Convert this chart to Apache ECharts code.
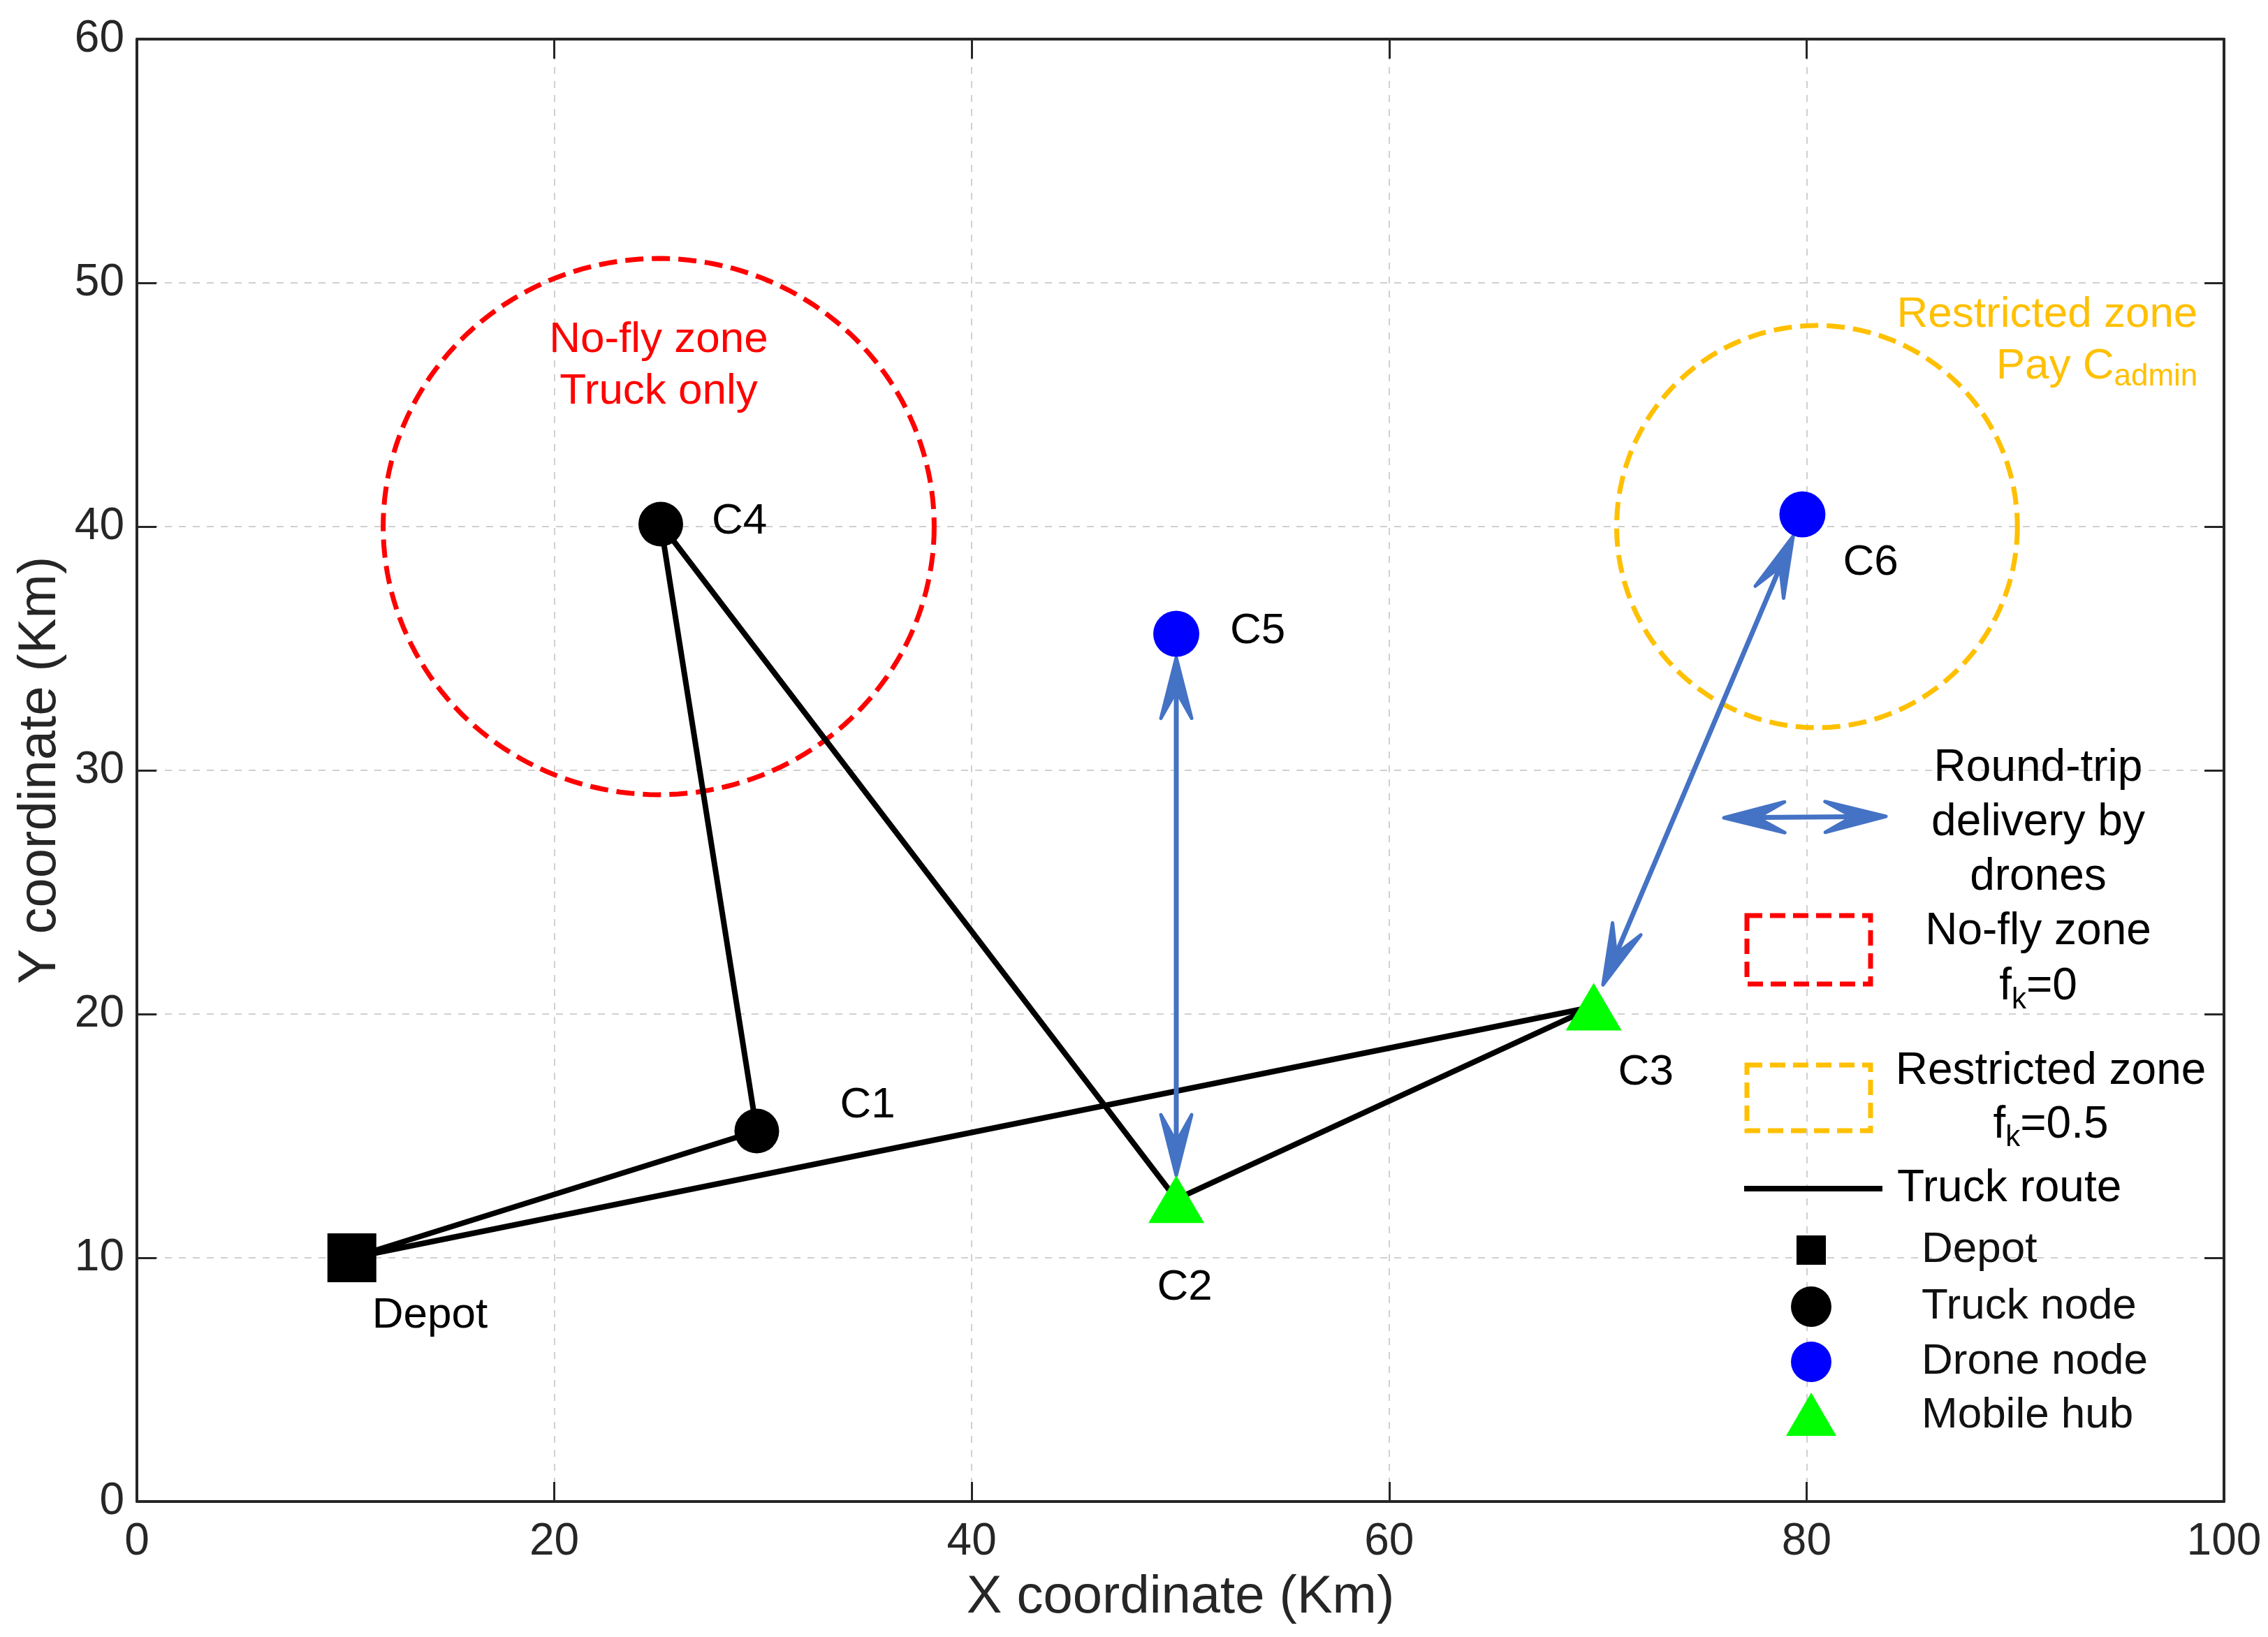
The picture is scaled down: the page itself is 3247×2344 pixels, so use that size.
<!DOCTYPE html>
<html>
<head>
<meta charset="utf-8">
<script src="https://cdn.jsdelivr.net/npm/echarts@6/dist/echarts.min.js"></script>
<style>html,body{margin:0;background:#fff}#main{width:3247px;height:2344px}</style>
</head>
<body>
<div id="main"></div>
<script>
// customers and depot (km)
let nodeNames = ['Depot', 'C1', 'C2', 'C3', 'C4', 'C5', 'C6']
let nodeX = [10.3, 29.7, 49.8, 69.8, 25.1, 49.8, 79.8]
let nodeY = [10, 15.2, 12.4, 20.3, 40.1, 35.6, 40.5]
let nodeKind = ['depot', 'truck', 'hub', 'hub', 'truck', 'drone', 'drone']

let truckRoute = ['Depot', 'C1', 'C4', 'C2', 'C3', 'Depot']
let droneTrips = [['C2', 'C5'], ['C3', 'C6']]

// zones: centre and radii in km
let zoneNames = ['nofly', 'restricted']
let zoneCx = [25, 80.5]
let zoneCy = [40, 40]
let zoneRx = [13.2, 9.6]
let zoneRy = [11, 8.25]

let xTicks = [0, 20, 40, 60, 80, 100]
let yTicks = [0, 10, 20, 30, 40, 50, 60]

const FONT = "'Liberation Sans', Arial, sans-serif"
const RED = '#FF0000', ORANGE = '#FFC000', BLUE = '#4472C4'

let kindStyle = {
  depot: { symbol: 'rect', size: 70, color: '#000' },
  truck: { symbol: 'circle', size: 64, color: '#000' },
  drone: { symbol: 'circle', size: 66, color: '#0000FF' },
  hub: { symbol: 'triangle', size: [80, 68], color: '#00FF00' }
}
// where each label sits relative to its marker (px)
let labelPos = {
  Depot: { align: 'left', offset: [29, 83] },
  C1: { align: 'left', offset: [119, -37] },
  C2: { align: 'center', offset: [12, 127] },
  C3: { align: 'left', offset: [35, 94] },
  C4: { align: 'left', offset: [73, -4] },
  C5: { align: 'left', offset: [77, -4] },
  C6: { align: 'left', offset: [58, 69] }
}
let zoneStyle = {
  nofly: { color: RED, text: 'No-fly zone\nTruck only', align: 'center', dx: 0, dy: -230 },
  restricted: { color: ORANGE, text: 'Restricted zone\nPay C{s|admin}', align: 'right', dx: 545, dy: -266 }
}

function idx(n) { return nodeNames.indexOf(n) }

let nodeData = nodeNames.map((n, i) => {
  let st = kindStyle[nodeKind[i]]
  let lp = labelPos[n]
  return {
    name: n,
    value: [nodeX[i], nodeY[i]],
    symbol: st.symbol,
    symbolSize: st.size,
    itemStyle: { color: st.color, opacity: 1 },
    label: {
      show: true, formatter: n, position: 'inside', align: lp.align, verticalAlign: 'middle',
      offset: lp.offset, color: '#000', fontSize: 62, fontFamily: FONT
    }
  }
})

let routeData = truckRoute.map(n => [nodeX[idx(n)], nodeY[idx(n)]])
let tripData = droneTrips.map(t => [nodeX[idx(t[0])], nodeY[idx(t[0])], nodeX[idx(t[1])], nodeY[idx(t[1])]])
let zoneData = zoneNames.map((z, i) => [zoneCx[i], zoneCy[i], zoneRx[i], zoneRy[i]])

// notched arrow head (tip, two barbs, notch on the shaft)
function head(tip, ux, uy, len, hw) {
  let nx = -uy, ny = ux
  let bx = tip[0] - ux * len, by = tip[1] - uy * len
  let notch = [tip[0] - ux * len * 0.55, tip[1] - uy * len * 0.55]
  return {
    type: 'polygon',
    shape: { points: [tip, [bx + nx * hw, by + ny * hw], notch, [bx - nx * hw, by - ny * hw]] },
    style: { fill: BLUE, stroke: BLUE, lineWidth: 5, lineJoin: 'round' }
  }
}

function doubleArrow(p1, p2, shrink, z) {
  let dx = p2[0] - p1[0], dy = p2[1] - p1[1]
  let d = Math.sqrt(dx * dx + dy * dy)
  let ux = dx / d, uy = dy / d
  let a = [p1[0] + ux * shrink, p1[1] + uy * shrink]
  let b = [p2[0] - ux * shrink, p2[1] - uy * shrink]
  let g = {
    type: 'group',
    children: [
      { type: 'line', shape: { x1: a[0] + ux * 20, y1: a[1] + uy * 20, x2: b[0] - ux * 20, y2: b[1] - uy * 20 }, style: { stroke: BLUE, lineWidth: 7 } },
      head(b, ux, uy, 87, 22),
      head(a, -ux, -uy, 87, 22)
    ]
  }
  if (z) g.z = z
  return g
}

var myChart = echarts.init(document.getElementById('main'))

let axisLineStyle = { color: '#262626', width: 4 }
let tickStyle = { show: true, inside: true, length: 28, lineStyle: { color: '#262626', width: 3 } }

var option = {
  backgroundColor: '#fff',
  animation: false,
  grid: { left: 196, right: 63, top: 56, bottom: 194 },
  xAxis: [{
    type: 'value', min: xTicks[0], max: xTicks[xTicks.length - 1], interval: xTicks[1] - xTicks[0],
    name: 'X coordinate (Km)', nameLocation: 'middle', nameGap: 100,
    nameTextStyle: { fontSize: 76, color: '#262626', fontFamily: FONT },
    axisLine: { show: true, onZero: false, lineStyle: axisLineStyle },
    axisTick: tickStyle,
    axisLabel: { fontSize: 64, color: '#262626', fontFamily: FONT, margin: 26 },
    splitLine: { show: true, lineStyle: { type: [10, 10], color: '#d0d0d0', width: 2 } }
  }, {
    type: 'value', position: 'top', min: xTicks[0], max: xTicks[xTicks.length - 1], interval: xTicks[1] - xTicks[0],
    axisLine: { show: true, onZero: false, lineStyle: axisLineStyle },
    axisTick: tickStyle, axisLabel: { show: false }, splitLine: { show: false }
  }],
  yAxis: [{
    type: 'value', min: yTicks[0], max: yTicks[yTicks.length - 1], interval: yTicks[1] - yTicks[0],
    name: 'Y coordinate (Km)', nameLocation: 'middle', nameGap: 100,
    nameTextStyle: { fontSize: 76, color: '#262626', fontFamily: FONT },
    axisLine: { show: true, onZero: false, lineStyle: axisLineStyle },
    axisTick: tickStyle,
    axisLabel: { fontSize: 64, color: '#262626', fontFamily: FONT, margin: 18 },
    splitLine: { show: true, lineStyle: { type: [10, 10], color: '#d0d0d0', width: 2 } }
  }, {
    type: 'value', position: 'right', min: yTicks[0], max: yTicks[yTicks.length - 1], interval: yTicks[1] - yTicks[0],
    axisLine: { show: true, onZero: false, lineStyle: axisLineStyle },
    axisTick: tickStyle, axisLabel: { show: false }, splitLine: { show: false }
  }],
  series: [
    {
      name: 'zones',
      type: 'custom',
      z: 2,
      data: zoneData,
      renderItem: function (params, api) {
        let c = api.coord([api.value(0), api.value(1)])
        let s = api.size([api.value(2), api.value(3)])
        let pts = []
        for (let k = 0; k <= 180; k++) {
          let t = k / 180 * Math.PI * 2
          pts.push([c[0] + s[0] * Math.cos(t), c[1] + s[1] * Math.sin(t)])
        }
        let zs = zoneStyle[zoneNames[params.dataIndex]]
        return {
          type: 'group',
          children: [
            { type: 'polyline', shape: { points: pts }, style: { stroke: zs.color, lineWidth: 7, lineDash: [26, 12], fill: null } },
            {
              type: 'text', x: c[0] + zs.dx, y: c[1] + zs.dy,
              style: {
                text: zs.text, fill: zs.color, fontSize: 62, fontFamily: FONT, lineHeight: 74,
                align: zs.align, verticalAlign: 'middle',
                rich: { s: { fontSize: 44, lineHeight: 30, verticalAlign: 'bottom', fill: zs.color, fontFamily: FONT } }
              }
            }
          ]
        }
      }
    },
    {
      name: 'Truck route',
      type: 'line',
      z: 3,
      data: routeData,
      symbol: 'none',
      lineStyle: { color: '#000', width: 8 }
    },
    {
      name: 'Drone trips',
      type: 'custom',
      z: 4,
      data: tripData,
      renderItem: function (params, api) {
        let p1 = api.coord([api.value(0), api.value(1)])
        let p2 = api.coord([api.value(2), api.value(3)])
        return doubleArrow(p1, p2, 34)
      }
    },
    {
      name: 'Nodes',
      type: 'scatter',
      z: 5,
      data: nodeData
    }
  ],
  graphic: {
    elements: [
      // legend, drawn inside the plot like the original
      doubleArrow([2468, 1171], [2700, 1169], 0, 100),
      { type: 'text', z: 100, x: 2918, y: 1178, style: { text: 'Round-trip\ndelivery by\ndrones', fontSize: 64, fontFamily: FONT, lineHeight: 78, fill: '#000', align: 'center', verticalAlign: 'middle' } },
      { type: 'rect', z: 100, shape: { x: 2501, y: 1311, width: 177, height: 98 }, style: { stroke: RED, lineWidth: 7, lineDash: [22, 11], fill: null } },
      { type: 'text', z: 100, x: 2918, y: 1374, style: { text: 'No-fly zone\nf{s|k}=0', fontSize: 64, fontFamily: FONT, lineHeight: 79, fill: '#000', align: 'center', verticalAlign: 'middle', rich: { s: { fontSize: 42, lineHeight: 30, verticalAlign: 'bottom', fontFamily: FONT } } } },
      { type: 'rect', z: 100, shape: { x: 2501, y: 1525, width: 177, height: 94 }, style: { stroke: ORANGE, lineWidth: 7, lineDash: [22, 11], fill: null } },
      { type: 'text', z: 100, x: 2936, y: 1573, style: { text: 'Restricted zone\nf{s|k}=0.5', fontSize: 64, fontFamily: FONT, lineHeight: 77, fill: '#000', align: 'center', verticalAlign: 'middle', rich: { s: { fontSize: 42, lineHeight: 30, verticalAlign: 'bottom', fontFamily: FONT } } } },
      { type: 'line', z: 100, shape: { x1: 2497, y1: 1702, x2: 2695, y2: 1702 }, style: { stroke: '#000', lineWidth: 8 } },
      { type: 'text', z: 100, x: 2716, y: 1702, style: { text: 'Truck route', fontSize: 64, fontFamily: FONT, fill: '#000', align: 'left', verticalAlign: 'middle' } },
      { type: 'rect', z: 100, shape: { x: 2572, y: 1769, width: 42, height: 42 }, style: { fill: '#000' } },
      { type: 'text', z: 100, x: 2751, y: 1790, style: { text: 'Depot', fontSize: 62, fontFamily: FONT, fill: '#111', align: 'left', verticalAlign: 'middle' } },
      { type: 'circle', z: 100, shape: { cx: 2593, cy: 1871, r: 29 }, style: { fill: '#000' } },
      { type: 'text', z: 100, x: 2751, y: 1871, style: { text: 'Truck node', fontSize: 62, fontFamily: FONT, fill: '#111', align: 'left', verticalAlign: 'middle' } },
      { type: 'circle', z: 100, shape: { cx: 2593, cy: 1950, r: 29 }, style: { fill: '#0000FF' } },
      { type: 'text', z: 100, x: 2751, y: 1950, style: { text: 'Drone node', fontSize: 62, fontFamily: FONT, fill: '#111', align: 'left', verticalAlign: 'middle' } },
      { type: 'polygon', z: 100, shape: { points: [[2593, 1994], [2629, 2056], [2557, 2056]] }, style: { fill: '#00FF00' } },
      { type: 'text', z: 100, x: 2751, y: 2027, style: { text: 'Mobile hub', fontSize: 62, fontFamily: FONT, fill: '#111', align: 'left', verticalAlign: 'middle' } }
    ]
  }
}

myChart.setOption(option)
</script>
</body>
</html>
